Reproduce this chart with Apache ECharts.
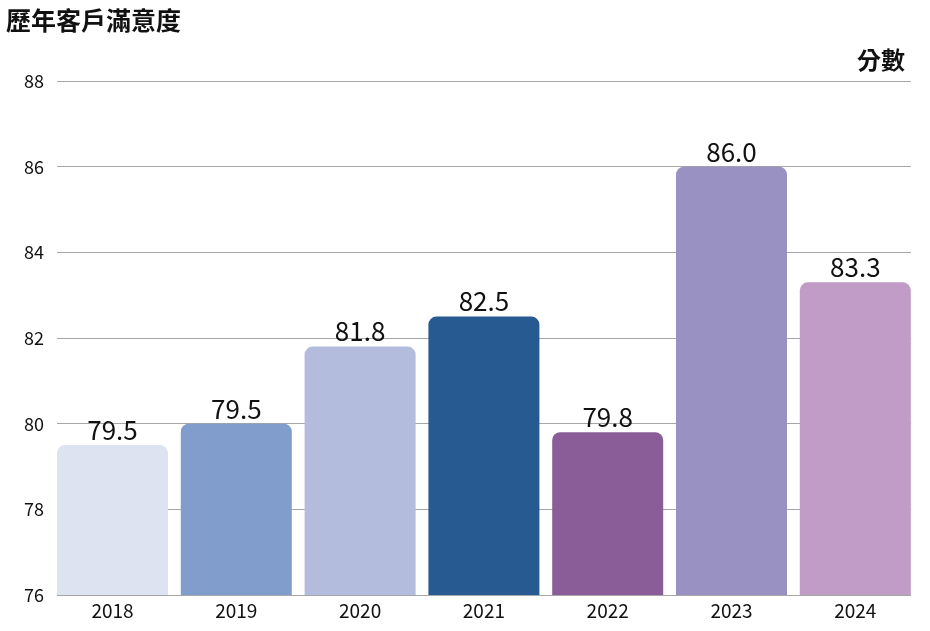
<!DOCTYPE html>
<html>
<head>
<meta charset="utf-8">
<script src="https://cdn.jsdelivr.net/npm/echarts@6/dist/echarts.min.js"></script>
<style>html,body{margin:0;padding:0;background:#fff;}#c{width:930px;height:631px;}</style>
</head>
<body>
<div id="c"></div>
<script>
var categories = ['2018','2019','2020','2021','2022','2023','2024'];
var values = [79.5, 80.0, 81.8, 82.5, 79.8, 86.0, 83.3];
var valueLabels = ['79.5','79.5','81.8','82.5','79.8','86.0','83.3'];
var colors = ['#dde3f1','#819dcb','#b3bcdd','#265a91','#8a5d99','#9891c2','#c09cc6'];
var yMin = 76, yMax = 88, yStep = 2;
var FONT = '"Noto Sans CJK TC","Noto Sans",sans-serif';

var chart = echarts.init(document.getElementById('c'));
chart.setOption({
  animation: false,
  backgroundColor: '#fff',
  title: [
    {text: '歷年客戶滿意度', left: 1, top: 3, textStyle: {fontFamily: FONT, fontSize: 25, fontWeight: 'bold', color: '#111'}},
    {text: '分數', right: 20, top: 43, textStyle: {fontFamily: FONT, fontSize: 24, fontWeight: 'bold', color: '#111'}}
  ],
  grid: [
    {left: 57, right: 19, top: 81, bottom: 36},
    {left: 50.6, right: 12.8, top: 81, bottom: 36}
  ],
  xAxis: [
    {type: 'category', gridIndex: 0, data: categories, show: false},
    {type: 'category', gridIndex: 1, data: categories,
     axisLine: {show: false}, axisTick: {show: false},
     axisLabel: {fontFamily: FONT, fontSize: 19, color: '#111', margin: 6}}
  ],
  yAxis: [
    {type: 'value', gridIndex: 0, min: yMin, max: yMax, interval: yStep,
     axisLine: {show: false}, axisTick: {show: false},
     axisLabel: {fontFamily: FONT, fontSize: 18, color: '#111', margin: 13},
     splitLine: {lineStyle: {color: '#a6a6a6', width: 1}}},
    {type: 'value', gridIndex: 1, min: yMin, max: yMax, interval: yStep, show: false, splitLine: {show: false}}
  ],
  series: [{
    type: 'bar',
    xAxisIndex: 1, yAxisIndex: 1,
    barWidth: 111,
    data: values.map(function (v, i) {
      return {value: v, itemStyle: {color: colors[i], borderRadius: [8, 8, 0, 0]}};
    }),
    label: {
      show: true, position: 'top', distance: 2,
      fontFamily: FONT, fontSize: 26, color: '#111',
      formatter: function (p) { return valueLabels[p.dataIndex]; }
    }
  }]
});
</script>
</body>
</html>
